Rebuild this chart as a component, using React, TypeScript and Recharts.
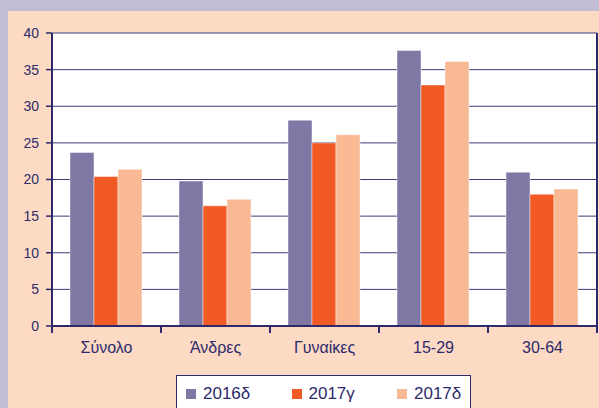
import { Bar, BarChart, CartesianGrid, XAxis, YAxis } from "recharts";

const categories: string[] = ["Σύνολο", "Άνδρες", "Γυναίκες", "15-29", "30-64"];
const seriesNames: string[] = ["2016δ", "2017γ", "2017δ"];
const values2016d: number[] = [23.7, 19.8, 28.1, 37.6, 21.0];
const values2017g: number[] = [20.4, 16.4, 25.0, 32.9, 18.0];
const values2017d: number[] = [21.4, 17.3, 26.1, 36.1, 18.7];
const yTicks: number[] = [0, 5, 10, 15, 20, 25, 30, 35, 40];

const colors = ["#7f78a4", "#f15a24", "#f9b994"];
const navy = "#2d2a6b";
const font = "'Liberation Sans', Arial, Helvetica, sans-serif";

const data = categories.map((name, i) => ({
    name,
    s0: values2016d[i],
    s1: values2017g[i],
    s2: values2017d[i],
}));

function CategoryTick(props: any) {
    const { x, y, payload, index } = props;
    const half = payload.offset ?? 54.6;
    const last = index === categories.length - 1;
    return (
        <g>
            <line x1={x - half} x2={x - half} y1={y} y2={y + 7} stroke={navy} strokeWidth={2} />
            {last && <line x1={x + half} x2={x + half} y1={y} y2={y + 7} stroke={navy} strokeWidth={2} />}
            <text x={x} y={y + 27} textAnchor="middle" fill={navy} fontSize={16} fontFamily={font}>
                {payload.value}
            </text>
        </g>
    );
}

export default function App() {
    return (
        <div style={{ position: "absolute", left: 0, top: 0, width: 599, height: 408, background: "#c1bdd6", overflow: "hidden", fontFamily: font }}>
            <div style={{ position: "absolute", left: 8, top: 11, width: 591, height: 397, background: "#fddac3" }} />
            <div style={{ position: "absolute", left: 0, top: 0 }}>
                <BarChart
                    width={599}
                    height={408}
                    data={data}
                    margin={{ top: 33, right: 0, bottom: 42, left: 0 }}
                    barCategoryGap={18}
                    barGap={0}
                >
                    <CartesianGrid vertical={false} stroke="#3f3a7a" strokeWidth={1} fill="#ffffff" />
                    <XAxis
                        dataKey="name"
                        height={40}
                        tickSize={0}
                        tickMargin={0}
                        tickLine={false}
                        axisLine={{ stroke: navy, strokeWidth: 2 }}
                        tick={<CategoryTick />}
                        interval={0}
                    />
                    <YAxis
                        width={52}
                        domain={[0, 40]}
                        ticks={yTicks}
                        interval={0}
                        tickSize={6}
                        tickMargin={7}
                        axisLine={{ stroke: navy, strokeWidth: 2 }}
                        tickLine={{ stroke: navy, strokeWidth: 1.5 }}
                        tick={{ fill: navy, fontSize: 14, fontFamily: font }}
                    />
                    <YAxis
                        yAxisId="r"
                        orientation="right"
                        width={2}
                        domain={[0, 40]}
                        tick={false}
                        tickLine={false}
                        axisLine={{ stroke: navy, strokeWidth: 2 }}
                    />
                    {["s0", "s1", "s2"].map((key, i) => (
                        <Bar
                            key={key}
                            dataKey={key}
                            name={seriesNames[i]}
                            fill={colors[i]}
                            stroke="#ffffff"
                            strokeOpacity={0.45}
                            strokeWidth={1}
                            isAnimationActive={false}
                        />
                    ))}
                </BarChart>
            </div>
            <div
                style={{
                    position: "absolute",
                    left: 176,
                    top: 375,
                    width: 295,
                    height: 40,
                    background: "#ffffff",
                    border: `1.5px solid ${navy}`,
                    boxSizing: "border-box",
                }}
            >
                {seriesNames.map((s, i) => (
                    <div
                        key={s}
                        style={{
                            position: "absolute",
                            left: 9 + i * 105.5,
                            top: 8,
                            display: "flex",
                            alignItems: "center",
                            gap: 7,
                            color: navy,
                            fontSize: 17,
                            lineHeight: "20px",
                        }}
                    >
                        <span style={{ display: "inline-block", width: 10, height: 10, background: colors[i] }} />
                        <span>{s}</span>
                    </div>
                ))}
            </div>
        </div>
    );
}
